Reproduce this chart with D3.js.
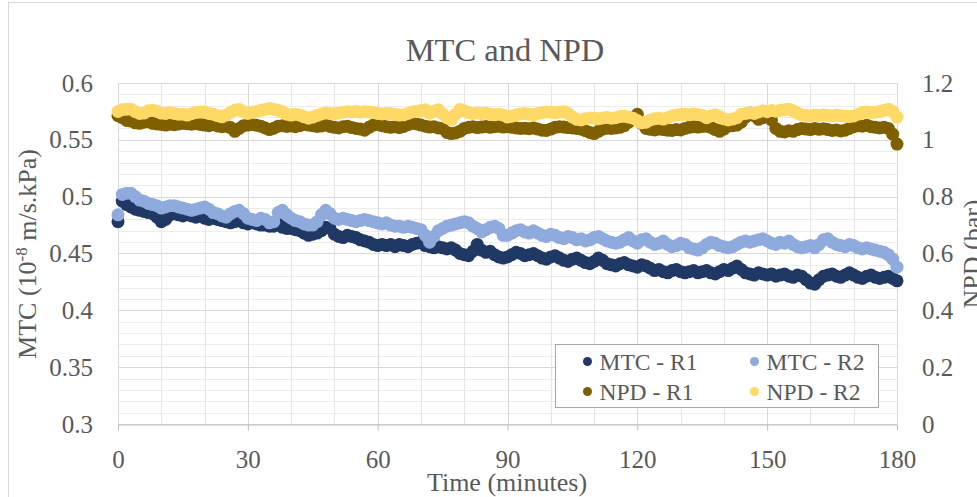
<!DOCTYPE html>
<html>
<head>
<meta charset="utf-8">
<script src="https://cdn.jsdelivr.net/npm/d3@7"></script>
<style>
  body { margin: 0; background: #fff; }
  svg { display: block; font-family: 'Liberation Serif', 'Times New Roman', serif; }
</style>
</head>
<body>
<svg id="chart" width="977" height="497"></svg>
<script>
// one reading per minute, 0..180
const minutes = d3.range(0, 181);

const mtcR1 = [
  0.478, 0.496, 0.493, 0.491, 0.489, 0.488, 0.487, 0.486, 0.485, 0.482,
  0.478, 0.480, 0.484, 0.485, 0.484, 0.483, 0.484, 0.483, 0.482, 0.483,
  0.481, 0.480, 0.481, 0.480, 0.479, 0.478, 0.477, 0.478, 0.479, 0.477,
  0.476, 0.477, 0.476, 0.475, 0.475, 0.474, 0.474, 0.476, 0.473, 0.472,
  0.472, 0.471, 0.470, 0.468, 0.466, 0.467, 0.468, 0.470, 0.473, 0.472,
  0.467, 0.465, 0.464, 0.466, 0.465, 0.464, 0.462, 0.461, 0.460, 0.458,
  0.457, 0.458, 0.457, 0.458, 0.456, 0.458, 0.457, 0.456, 0.458, 0.459,
  0.460, 0.457, 0.456, 0.455, 0.456, 0.455, 0.454, 0.455, 0.453, 0.450,
  0.449, 0.448, 0.452, 0.458, 0.453, 0.451, 0.452, 0.449, 0.447, 0.446,
  0.447, 0.449, 0.451, 0.450, 0.448, 0.449, 0.450, 0.448, 0.446, 0.445,
  0.447, 0.448, 0.446, 0.444, 0.443, 0.445, 0.446, 0.444, 0.442, 0.441,
  0.443, 0.446, 0.444, 0.441, 0.440, 0.439, 0.441, 0.442, 0.440, 0.439,
  0.438, 0.440, 0.439, 0.437, 0.435, 0.436, 0.434, 0.433, 0.435, 0.436,
  0.434, 0.433, 0.434, 0.435, 0.433, 0.434, 0.435, 0.433, 0.432, 0.434,
  0.436, 0.435, 0.437, 0.439, 0.436, 0.433, 0.432, 0.431, 0.433, 0.432,
  0.431, 0.432, 0.430, 0.431, 0.432, 0.430, 0.429, 0.431, 0.430, 0.427,
  0.424, 0.423, 0.427, 0.430, 0.431, 0.432, 0.430, 0.429, 0.431, 0.433,
  0.431, 0.429, 0.428, 0.430, 0.431, 0.429, 0.428, 0.429, 0.430, 0.428,
  0.426
];

const mtcR2 = [
  0.484, 0.502, 0.503, 0.503, 0.500, 0.497, 0.496, 0.494, 0.493, 0.492,
  0.490, 0.491, 0.492, 0.492, 0.491, 0.490, 0.489, 0.488, 0.489, 0.490,
  0.491, 0.489, 0.486, 0.485, 0.483, 0.482, 0.485, 0.487, 0.488, 0.485,
  0.481, 0.480, 0.479, 0.481, 0.480, 0.477, 0.478, 0.486, 0.488, 0.484,
  0.481, 0.479, 0.478, 0.476, 0.475, 0.475, 0.478, 0.484, 0.488, 0.485,
  0.481, 0.480, 0.481, 0.480, 0.479, 0.478, 0.479, 0.480, 0.479, 0.478,
  0.477, 0.476, 0.477, 0.475, 0.474, 0.474, 0.473, 0.474, 0.473, 0.472,
  0.471, 0.466, 0.460, 0.465, 0.470, 0.472, 0.474, 0.475, 0.476, 0.477,
  0.478, 0.477, 0.474, 0.472, 0.469, 0.471, 0.473, 0.474, 0.472, 0.466,
  0.466, 0.468, 0.470, 0.471, 0.469, 0.468, 0.470, 0.468, 0.466, 0.465,
  0.467, 0.466, 0.464, 0.463, 0.465, 0.464, 0.462, 0.463, 0.461, 0.462,
  0.464, 0.465, 0.463, 0.461, 0.460, 0.459, 0.460, 0.462, 0.464, 0.461,
  0.459, 0.462, 0.463, 0.460, 0.458, 0.459, 0.461, 0.458, 0.456, 0.457,
  0.459, 0.458, 0.455, 0.454, 0.453, 0.455, 0.458, 0.460, 0.459, 0.457,
  0.456, 0.455, 0.456, 0.458, 0.460, 0.461, 0.460, 0.461, 0.462, 0.463,
  0.461, 0.459, 0.458, 0.460, 0.459, 0.461, 0.458, 0.456, 0.455, 0.456,
  0.457, 0.455, 0.458, 0.462, 0.463, 0.460, 0.458, 0.457, 0.456, 0.458,
  0.457, 0.455, 0.454, 0.455, 0.454, 0.453, 0.452, 0.451, 0.449, 0.445,
  0.438
];

const npdR1 = [
  1.085, 1.078, 1.068, 1.066, 1.060, 1.058, 1.062, 1.064, 1.058, 1.056,
  1.054, 1.052, 1.055, 1.053, 1.056, 1.058, 1.057, 1.055, 1.057, 1.054,
  1.052, 1.050, 1.053, 1.049, 1.046, 1.048, 1.043, 1.030, 1.040, 1.050,
  1.052, 1.054, 1.051, 1.048, 1.042, 1.036, 1.041, 1.048, 1.050, 1.047,
  1.049, 1.046, 1.050, 1.055, 1.052, 1.050, 1.047, 1.049, 1.052, 1.047,
  1.044, 1.042, 1.046, 1.048, 1.043, 1.040, 1.038, 1.034, 1.044, 1.052,
  1.054, 1.050, 1.046, 1.044, 1.046, 1.043, 1.047, 1.053, 1.058, 1.056,
  1.052, 1.048, 1.045, 1.046, 1.042, 1.040, 1.026, 1.022, 1.024, 1.030,
  1.040, 1.044, 1.046, 1.043, 1.045, 1.047, 1.044, 1.046, 1.048, 1.045,
  1.046, 1.044, 1.042, 1.040, 1.041, 1.039, 1.042, 1.038, 1.034, 1.033,
  1.038, 1.044, 1.046, 1.045, 1.043, 1.042, 1.040, 1.038, 1.032, 1.026,
  1.022, 1.030, 1.038, 1.041, 1.040, 1.042, 1.044, 1.050, 1.062, 1.076,
  1.090, 1.058, 1.040, 1.037, 1.035, 1.038, 1.036, 1.034, 1.033, 1.036,
  1.035, 1.040, 1.044, 1.046, 1.045, 1.047, 1.048, 1.044, 1.036, 1.030,
  1.038, 1.048, 1.050, 1.052, 1.062, 1.080, 1.094, 1.085, 1.072, 1.078,
  1.090, 1.070, 1.040, 1.030, 1.028, 1.032, 1.030, 1.036, 1.040, 1.038,
  1.036, 1.040, 1.037, 1.039, 1.036, 1.033, 1.035, 1.031, 1.034, 1.040,
  1.046, 1.050, 1.048, 1.051, 1.046, 1.044, 1.042, 1.044, 1.040, 1.020,
  0.985
];

const npdR2 = [
  1.100, 1.106, 1.108, 1.108, 1.099, 1.093, 1.094, 1.102, 1.104, 1.101,
  1.094, 1.093, 1.096, 1.093, 1.090, 1.090, 1.087, 1.092, 1.096, 1.098,
  1.098, 1.093, 1.090, 1.085, 1.081, 1.087, 1.097, 1.104, 1.107, 1.099,
  1.093, 1.096, 1.100, 1.104, 1.107, 1.110, 1.107, 1.104, 1.099, 1.090,
  1.087, 1.090, 1.087, 1.081, 1.076, 1.080, 1.086, 1.091, 1.094, 1.093,
  1.092, 1.094, 1.097, 1.099, 1.098, 1.100, 1.097, 1.099, 1.098, 1.096,
  1.093, 1.091, 1.093, 1.092, 1.089, 1.087, 1.088, 1.093, 1.098, 1.100,
  1.103, 1.106, 1.094, 1.101, 1.106, 1.092, 1.078, 1.070, 1.090, 1.107,
  1.102, 1.096, 1.093, 1.095, 1.092, 1.094, 1.090, 1.088, 1.090, 1.087,
  1.080, 1.083, 1.088, 1.091, 1.093, 1.090, 1.088, 1.093, 1.096, 1.098,
  1.097, 1.095, 1.097, 1.099, 1.093, 1.080, 1.072, 1.070, 1.074, 1.077,
  1.076, 1.074, 1.077, 1.079, 1.076, 1.078, 1.082, 1.083, 1.080, 1.076,
  1.068, 1.060, 1.062, 1.070, 1.074, 1.076, 1.073, 1.078, 1.084, 1.087,
  1.089, 1.090, 1.088, 1.091, 1.089, 1.086, 1.078, 1.084, 1.088, 1.082,
  1.074, 1.070, 1.073, 1.078, 1.090, 1.093, 1.095, 1.093, 1.098, 1.102,
  1.099, 1.103, 1.101, 1.104, 1.106, 1.108, 1.102, 1.094, 1.088, 1.086,
  1.084, 1.087, 1.085, 1.088, 1.086, 1.084, 1.087, 1.085, 1.083, 1.082,
  1.084, 1.090, 1.096, 1.098, 1.096, 1.097, 1.100, 1.104, 1.108, 1.100,
  1.080
];

const timeTicks = [0, 30, 60, 90, 120, 150, 180];
const mtcTicks = [0.3, 0.35, 0.4, 0.45, 0.5, 0.55, 0.6];
const npdTicks = [0, 0.2, 0.4, 0.6, 0.8, 1, 1.2];

const seriesNames = ['MTC - R1', 'MTC - R2', 'NPD - R1', 'NPD - R2'];
const seriesColors = ['#203864', '#8faadc', '#7f6000', '#ffd966'];

const textColor = '#595959';
const svg = d3.select('#chart');

const x = d3.scaleLinear().domain([0, 180]).range([118, 897]);
const yLeft = d3.scaleLinear().domain([0.3, 0.6]).range([424, 83]);
const yRight = d3.scaleLinear().domain([0, 1.2]).range([424, 83]);

// chart area frame
svg.append('rect')
  .attr('x', 8.5).attr('y', 2.5)
  .attr('width', 1000).attr('height', 1000)
  .attr('fill', '#fff')
  .attr('stroke', '#d9d9d9');

// minor then major gridlines
const grid = svg.append('g');
grid.selectAll('.hminor')
  .data(yLeft.ticks(30))
  .enter().append('line')
  .attr('x1', x(0)).attr('x2', x(180))
  .attr('y1', d => Math.round(yLeft(d)) + 0.5)
  .attr('y2', d => Math.round(yLeft(d)) + 0.5)
  .attr('stroke', '#ededed');
grid.selectAll('.vminor')
  .data(x.ticks(18))
  .enter().append('line')
  .attr('y1', yLeft(0.3)).attr('y2', yLeft(0.6))
  .attr('x1', d => Math.round(x(d)) + 0.5)
  .attr('x2', d => Math.round(x(d)) + 0.5)
  .attr('stroke', '#e6e6e6');
grid.selectAll('.hmajor')
  .data(mtcTicks)
  .enter().append('line')
  .attr('x1', x(0)).attr('x2', x(180))
  .attr('y1', d => Math.round(yLeft(d)) + 0.5)
  .attr('y2', d => Math.round(yLeft(d)) + 0.5)
  .attr('stroke', '#d9d9d9');
grid.selectAll('.vmajor')
  .data(timeTicks)
  .enter().append('line')
  .attr('y1', yLeft(0.3)).attr('y2', yLeft(0.6))
  .attr('x1', d => Math.round(x(d)) + 0.5)
  .attr('x2', d => Math.round(x(d)) + 0.5)
  .attr('stroke', '#d9d9d9');

// axes
const styleAxis = (g, size) => {
  g.selectAll('text')
    .attr('fill', textColor)
    .style('font-size', `${size}px`)
    .style('font-family', "'Liberation Serif', 'Times New Roman', serif");
  g.selectAll('line').attr('stroke', '#bfbfbf');
  g.select('.domain').attr('stroke', '#bfbfbf');
};

svg.append('g')
  .attr('transform', `translate(0, ${yLeft(0.3) + 0.5})`)
  .call(d3.axisBottom(x).tickValues(timeTicks).tickSize(6).tickSizeOuter(0).tickPadding(20))
  .call(g => styleAxis(g, 25));

svg.append('g')
  .attr('transform', `translate(${x(0)}, 0)`)
  .call(d3.axisLeft(yLeft).tickValues(mtcTicks).tickSize(0).tickPadding(25).tickFormat(d3.format('')))
  .call(g => g.select('.domain').remove())
  .call(g => styleAxis(g, 25));

svg.append('g')
  .attr('transform', `translate(${x(180)}, 0)`)
  .call(d3.axisRight(yRight).tickValues(npdTicks).tickSize(0).tickPadding(25).tickFormat(d3.format('')))
  .call(g => g.select('.domain').remove())
  .call(g => styleAxis(g, 25));

// series: MTC on left axis, NPD on right axis
const series = [
  { values: mtcR1, y: yLeft },
  { values: mtcR2, y: yLeft },
  { values: npdR1, y: yRight },
  { values: npdR2, y: yRight }
];

series.forEach((s, i) => {
  svg.append('g')
    .selectAll('circle')
    .data(minutes)
    .enter().append('circle')
    .attr('cx', d => x(d))
    .attr('cy', (d, j) => s.y(s.values[j]))
    .attr('r', 6.5)
    .attr('fill', seriesColors[i]);
});

// titles
svg.append('text')
  .attr('x', 505).attr('y', 61)
  .attr('text-anchor', 'middle')
  .attr('fill', textColor)
  .style('font-size', '32.5px')
  .text('MTC and NPD');

svg.append('text')
  .attr('x', 507).attr('y', 491)
  .attr('text-anchor', 'middle')
  .attr('fill', textColor)
  .style('font-size', '26px')
  .text('Time (minutes)');

const leftTitle = svg.append('text')
  .attr('transform', 'translate(27, 254) rotate(-90)')
  .attr('text-anchor', 'middle')
  .attr('dy', '0.35em')
  .attr('fill', textColor)
  .style('font-size', '26px');
leftTitle.append('tspan').text('MTC (10');
leftTitle.append('tspan').attr('baseline-shift', 'super').style('font-size', '17px').text('-8');
leftTitle.append('tspan').text(' m/s.kPa)');

// partly outside the picture, as in the reference
svg.append('text')
  .attr('transform', 'translate(972, 254) rotate(-90)')
  .attr('text-anchor', 'middle')
  .attr('dy', '0.35em')
  .attr('fill', textColor)
  .style('font-size', '26px')
  .text('NPD (bar)');

// legend
const legend = svg.append('g').attr('transform', 'translate(555.5, 344.5)');
legend.append('rect')
  .attr('width', 323).attr('height', 63)
  .attr('fill', '#fff')
  .attr('stroke', '#a6a6a6');

const item = legend.selectAll('.item')
  .data(seriesNames)
  .enter().append('g')
  .attr('transform', (d, i) => `translate(${i % 2 ? 199 : 32}, ${i < 2 ? 17 : 47})`);
item.append('circle')
  .attr('r', 4.5)
  .attr('fill', (d, i) => seriesColors[i]);
item.append('text')
  .attr('x', 12)
  .attr('dy', '0.35em')
  .attr('fill', textColor)
  .style('font-size', '23.5px')
  .text(d => d);
</script>
</body>
</html>
